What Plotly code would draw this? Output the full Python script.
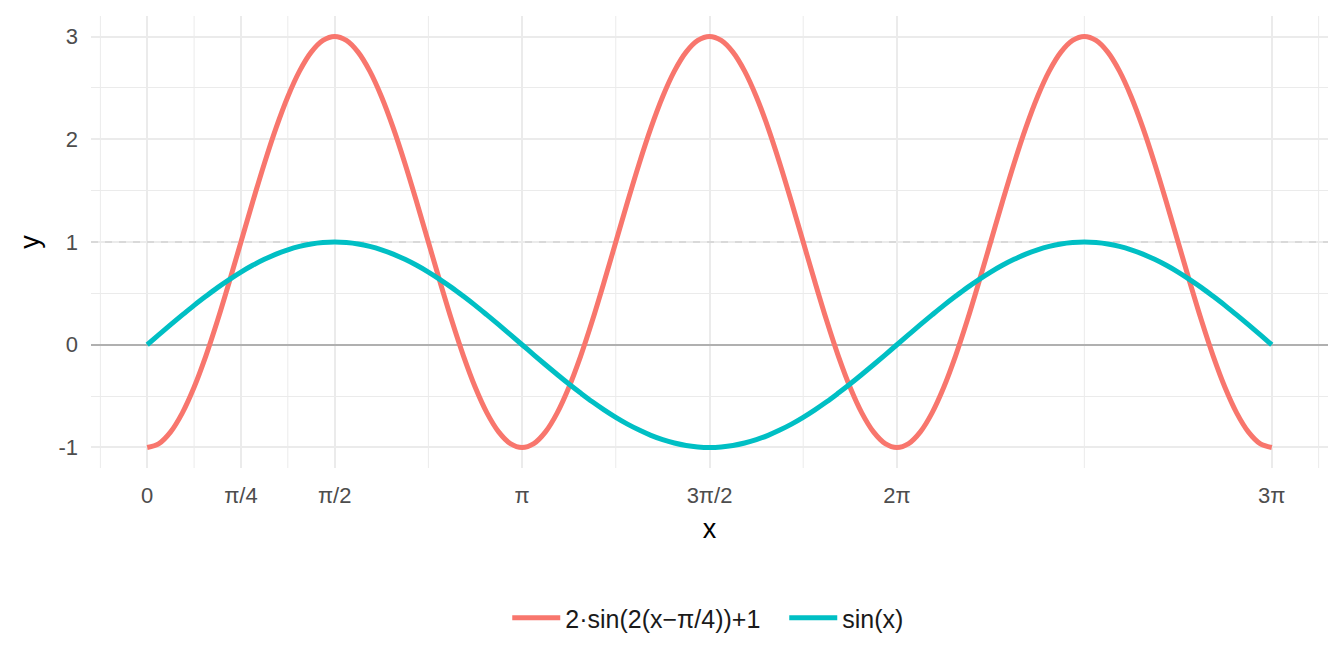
import numpy as np
import plotly.graph_objects as go

PI = np.pi

# sample positions: k * pi/32, k = 0..96 (x from 0 to 3*pi)
step_index = list(range(97))
x_vals = [k * PI / 32 for k in step_index]

# values
red_vals = [
    -1, -0.962, -0.848, -0.663, -0.414, -0.111, 0.235, 0.61, 1, 1.39, 1.765, 2.111, 2.414, 2.663, 2.848, 2.962,
    3, 2.962, 2.848, 2.663, 2.414, 2.111, 1.765, 1.39, 1, 0.61, 0.235, -0.111, -0.414, -0.663, -0.848, -0.962,
    -1, -0.962, -0.848, -0.663, -0.414, -0.111, 0.235, 0.61, 1, 1.39, 1.765, 2.111, 2.414, 2.663, 2.848, 2.962,
    3, 2.962, 2.848, 2.663, 2.414, 2.111, 1.765, 1.39, 1, 0.61, 0.235, -0.111, -0.414, -0.663, -0.848, -0.962,
    -1, -0.962, -0.848, -0.663, -0.414, -0.111, 0.235, 0.61, 1, 1.39, 1.765, 2.111, 2.414, 2.663, 2.848, 2.962,
    3, 2.962, 2.848, 2.663, 2.414, 2.111, 1.765, 1.39, 1, 0.61, 0.235, -0.111, -0.414, -0.663, -0.848, -0.962,
    -1,
]

sin_vals = [
    0, 0.098, 0.195, 0.29, 0.383, 0.471, 0.556, 0.634, 0.707, 0.773, 0.831, 0.882, 0.924, 0.957, 0.981, 0.995,
    1, 0.995, 0.981, 0.957, 0.924, 0.882, 0.831, 0.773, 0.707, 0.634, 0.556, 0.471, 0.383, 0.29, 0.195, 0.098,
    0, -0.098, -0.195, -0.29, -0.383, -0.471, -0.556, -0.634, -0.707, -0.773, -0.831, -0.882, -0.924, -0.957, -0.981, -0.995,
    -1, -0.995, -0.981, -0.957, -0.924, -0.882, -0.831, -0.773, -0.707, -0.634, -0.556, -0.471, -0.383, -0.29, -0.195, -0.098,
    0, 0.098, 0.195, 0.29, 0.383, 0.471, 0.556, 0.634, 0.707, 0.773, 0.831, 0.882, 0.924, 0.957, 0.981, 0.995,
    1, 0.995, 0.981, 0.957, 0.924, 0.882, 0.831, 0.773, 0.707, 0.634, 0.556, 0.471, 0.383, 0.29, 0.195, 0.098,
    0,
]

series_names = ["2·sin(2(x−π/4))+1", "sin(x)"]
series_colors = ["#F8766D", "#00BFC4"]

x_tick_vals = [0, PI / 4, PI / 2, PI, 3 * PI / 2, 2 * PI, 3 * PI]
x_tick_text = ["0", "π/4", "π/2", "π", "3π/2", "2π", "3π"]
x_minor_vals = [-PI / 8, PI / 8, 3 * PI / 8, 3 * PI / 4, 5 * PI / 4, 7 * PI / 4, 5 * PI / 2, 25 * PI / 8]

y_tick_vals = [-1, 0, 1, 2, 3]
y_tick_text = ["-1", "0", "1", "2", "3"]

ref_line_y = 1  # dashed reference line

FONT = "Liberation Sans, Arial, sans-serif"
GRID = "#EBEBEB"
X_RANGE = [-0.15 * PI, 3.15 * PI]
Y_RANGE = [-1.2, 3.2]

fig = go.Figure()
# dashed horizontal reference line (drawn first so the curves sit on top)
fig.add_trace(go.Scatter(x=X_RANGE, y=[ref_line_y, ref_line_y], mode="lines", showlegend=False,
                         hoverinfo="skip", line=dict(color="#D4D4D4", width=1.6, dash="7px,7px")))
for name, ys, col in zip(series_names, [red_vals, sin_vals], series_colors):
    fig.add_trace(go.Scatter(x=x_vals, y=ys, mode="lines", name=name,
                             line=dict(color=col, width=5, shape="spline", smoothing=1.0)))

shapes = []
for xv in x_minor_vals:
    shapes.append(dict(type="line", xref="x", yref="paper", x0=xv, x1=xv, y0=0, y1=1,
                       line=dict(color=GRID, width=1), layer="below"))

fig.update_layout(
    width=1344, height=672,
    margin=dict(l=83, r=24, t=8, b=212),
    paper_bgcolor="white", plot_bgcolor="white",
    font=dict(family=FONT, color="#4D4D4D"),
    shapes=shapes,
    showlegend=True,
    legend=dict(orientation="h", xanchor="left", x=0.3365, yanchor="middle", y=-0.332,
                font=dict(size=25, color="#1A1A1A", family=FONT), bgcolor="rgba(0,0,0,0)",
                itemwidth=48, entrywidth=214),
    xaxis=dict(range=X_RANGE, tickvals=x_tick_vals, ticktext=x_tick_text,
               showgrid=True, gridcolor=GRID, gridwidth=2, zeroline=False, showline=False,
               ticks="", ticklabelstandoff=12, automargin=False,
               tickfont=dict(size=22, color="#4D4D4D", family=FONT),
               title=dict(text="x", font=dict(size=27, color="#000000", family=FONT), standoff=12)),
    yaxis=dict(range=Y_RANGE, tickvals=y_tick_vals, ticktext=y_tick_text,
               showgrid=True, gridcolor=GRID, gridwidth=2,
               zeroline=True, zerolinecolor="#B0B0B0", zerolinewidth=2, showline=False,
               ticks="", ticklabelstandoff=12, automargin=False,
               minor=dict(dtick=0.5, tick0=0.5, showgrid=True, gridcolor=GRID, gridwidth=1),
               tickfont=dict(size=22, color="#4D4D4D", family=FONT),
               title=dict(text="y", font=dict(size=27, color="#000000", family=FONT), standoff=10)),
)

fig.write_html("out.html")
